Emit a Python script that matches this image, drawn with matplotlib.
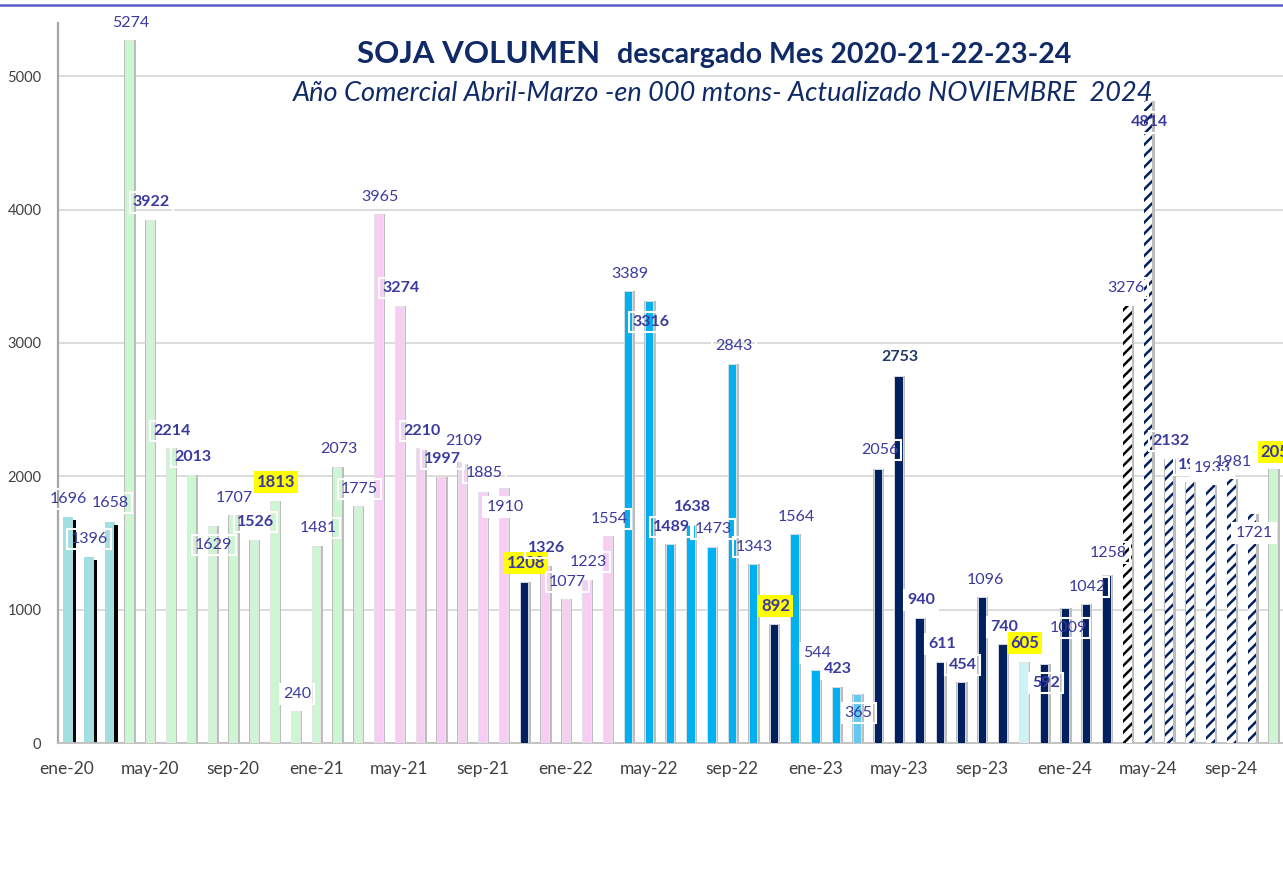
"""SOJA volumen descargado por mes, campañas 2020 a 2024 (barras mensuales)."""
import matplotlib
matplotlib.use("Agg")
import matplotlib.pyplot as plt
import numpy as np

plt.rcParams["font.family"] = ["Lato", "DejaVu Sans"]
plt.rcParams["hatch.linewidth"] = 1.8

# ───────────── Datos (000 mtons) ─────────────
MESES = ["ene", "feb", "mar", "abr", "may", "jun",
         "jul", "ago", "sep", "oct", "nov", "dic"]
# ene-20 .. mar-20 (cierre campaña 19-20)
camp_1920 = [1696, 1396, 1658]
camp_1920_negro = [1672, 1374, 1636]
# campañas comerciales abril-marzo
camp_2021 = [5274, 3922, 2214, 2013, 1629, 1707, 1526, 1813, 240, 1481, 2073, 1775]
camp_2122 = [3965, 3274, 2210, 1997, 2109, 1885, 1910, 1208, 1326, 1077, 1223, 1554]
camp_2223 = [3389, 3316, 1489, 1638, 1473, 2843, 1343, 892, 1564, 544, 423, 365]
camp_2324 = [2056, 2753, 940, 611, 454, 1096, 740, 605, 592, 1009, 1042, 1258]
camp_2425 = [3276, 4814, 2132, 1961, 1933, 1981, 1721, 2056]

valores = camp_1920 + camp_2021 + camp_2122 + camp_2223 + camp_2324 + camp_2425
n = len(valores)
etiquetas_mes = [f"{MESES[i % 12]}-{20 + i // 12}" for i in range(n)]
x = np.arange(n)

# ───────────── Estilos ─────────────
C_TEAL = "#a3dfe0"
C_GREEN = "#cdf6d2"
C_PINK = "#f8cdf4"
C_CYAN = "#00b0f0"
C_NAVY = "#002060"
C_LCYAN = "#62c9f2"
C_PALE = "#cdf3f6"
C_LABEL = "#3a3a9e"
C_TITLE = "#0f2a66"

colores = ([C_TEAL] * 3 + [C_GREEN] * 12 + [C_PINK] * 12 + [C_CYAN] * 12
           + [C_NAVY] * 12 + ["white"] * 8)
colores[22] = C_NAVY     # nov-21
colores[34] = C_NAVY     # nov-22
colores[38] = C_LCYAN    # mar-23
colores[46] = C_PALE     # nov-23
colores[58] = C_GREEN    # nov-24
rayado = [None] * n
for i in range(52, 58):
    rayado[i] = C_NAVY
rayado[51] = "black"

negrita = {4, 5, 6, 9, 10, 16, 17, 18, 22, 23, 28, 29, 30, 34, 37,
           40, 41, 42, 43, 45, 46, 47, 52, 53, 54, 58}
amarillo = {10, 22, 34, 46, 58}
fondo_blanco = {21, 55, 57}

label_dy = [133, 133, 141, 123, 133, 125, 131, -145, 130, 131, 144, 127,
            131, 131, 129, 128, 137, 129, 132, 155, 139, -141, 141, 136,
            130, 134, 125, 127, -160, 130, 131, 131, 133, 126, 135, 130,
            131, 132, -140, 140, 140, 132, 131, 131, 126, 130, 145, -142,
            -147, 127, 170, 135, -159, 132, 122, 128, 125, -147, 125]
label_dx = [0.08] * n
label_dx[44] = 0.15
label_dx[48] = 0.14
label_dx[51] = -0.05
label_dx[54] = 0.3
label_dx[58] = 0.34

# ───────────── Figura ─────────────
W, H = 1283, 871
fig = plt.figure(figsize=(W / 100, H / 100), dpi=100)
ax = fig.add_axes([58 / W, 128 / H, 1 - 58 / W, 720 / H])
ax.set_xlim(-0.41, 58.48)
ax.set_ylim(0, 5400)

ax.set_yticks(np.arange(0, 5001, 1000))
ax.yaxis.grid(True, color="#d9d9d9", lw=1.3)
ax.set_axisbelow(True)
for s in ("top", "right"):
    ax.spines[s].set_visible(False)
ax.spines["left"].set_color("#a6a6a6")
ax.spines["left"].set_linewidth(1.6)
ax.spines["bottom"].set_color("#bfbfbf")
ax.spines["bottom"].set_linewidth(1.3)
ax.tick_params(axis="y", length=0, pad=12, labelsize=10.5, labelcolor="#404040")
ax.tick_params(axis="x", length=0, pad=13, labelsize=12.5, labelcolor="#404040")
ax.set_xticks(x[::4])
ax.set_xticklabels(etiquetas_mes[::4])

# primeras tres barras: par teal + negro
ax.bar(x[:3] + 0.07, camp_1920, width=0.48, color=C_TEAL, zorder=2)
ax.bar(x[:3] + 0.38, camp_1920_negro, width=0.16, color="black", zorder=2)

# resto: sombra gris + barra
vals = np.array(valores[3:])
xs = x[3:]
ax.bar(xs + 0.05, vals, width=0.54, color="#bdbdbd", zorder=2)
for xi, v, c, h in zip(xs, vals, colores[3:], rayado[3:]):
    if h is None:
        ax.bar(xi, v, width=0.40, color=c, edgecolor="#e8e8e8", lw=0.6, zorder=3)
    else:
        ax.bar(xi, v, width=0.40, color="white", edgecolor=h, lw=0,
               hatch="///", zorder=3)

# etiquetas de valores (orden de dibujo: las de fondo blanco tapan a otras)
capa = {i: 5 for i in range(n)}
for i in fondo_blanco:
    capa[i] = 6
capa[56] = 7   # 1981 queda encima de 1933
for i in sorted(range(n), key=lambda k: capa[k]):
    v = valores[i]
    bold = i in negrita
    if i in amarillo:
        bb = dict(boxstyle="square,pad=0.18", fc="#ffff00", ec="none")
    elif i in fondo_blanco:
        bb = dict(boxstyle="square,pad=0.2", fc="white", ec="white", lw=1.5)
    else:
        bb = dict(boxstyle="square,pad=0.2", fc="none", ec="white", lw=1.5)
    color = "#1f3864" if i == 40 else C_LABEL
    ax.text(x[i] + label_dx[i], v + label_dy[i], str(v),
            ha="center", va="center", fontsize=12 if i in amarillo else 11.5,
            fontweight="bold" if bold else "normal", color=color,
            bbox=bb, zorder=capa[i], clip_on=False)

# títulos
fig.text(600 / W, 1 - 63 / H, "SOJA VOLUMEN", ha="right", va="baseline",
         fontsize=22.5, fontweight="bold", color=C_TITLE)
fig.text(617 / W, 1 - 63 / H, "descargado Mes 2020-21-22-23-24", ha="left",
         va="baseline", fontsize=20.5, fontweight="bold", color=C_TITLE)
fig.text(723 / W, 1 - 101 / H,
         "Año Comercial Abril-Marzo -en 000 mtons- Actualizado NOVIEMBRE  2024",
         ha="center", va="baseline", fontsize=19.5, fontstyle="italic",
         color=C_TITLE)

# borde superior
fig.add_artist(plt.Line2D([0, 1], [1 - 5 / H, 1 - 5 / H],
                          transform=fig.transFigure, color="#5b5bc8", lw=1.8))

fig.savefig("out.png", dpi=100, facecolor="white")
